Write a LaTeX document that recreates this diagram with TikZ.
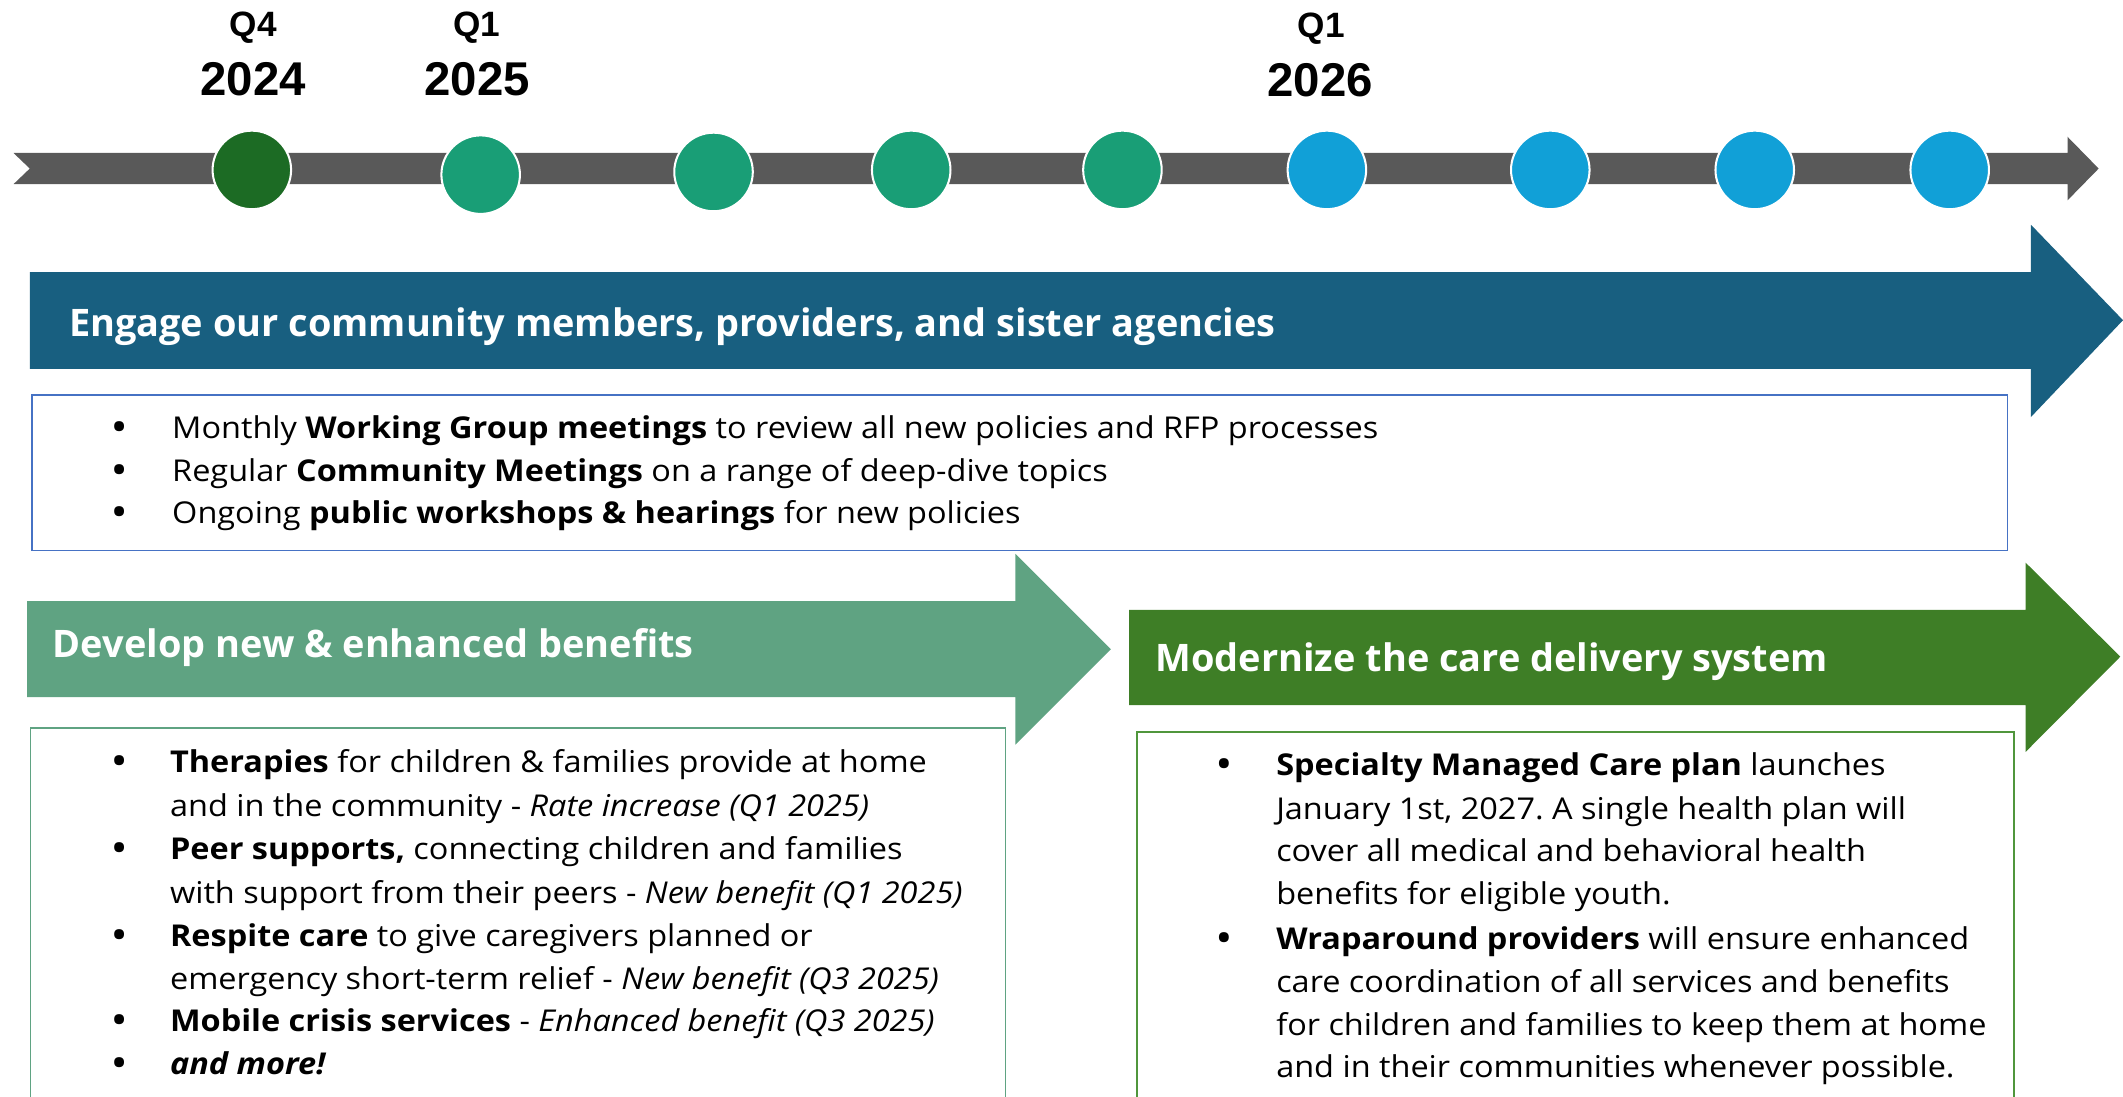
\documentclass[tikz,border=0pt]{standalone}
\usepackage{fontspec}
\setmainfont{Open Sans}
\newfontfamily\bodyf[FakeStretch=1.08]{Open Sans}
\newfontfamily\arialf{Liberation Sans}
\definecolor{tlgray}{RGB}{89,89,89}
\definecolor{dotA}{RGB}{28,107,36}
\definecolor{dotB}{RGB}{25,158,118}
\definecolor{dotC}{RGB}{17,160,215}
\definecolor{navyc}{RGB}{24,95,128}
\definecolor{lgreenc}{RGB}{95,163,130}
\definecolor{dgreenc}{RGB}{62,126,38}
\definecolor{boxAc}{RGB}{70,114,196}
\definecolor{boxBc}{RGB}{95,163,130}
\definecolor{boxCc}{RGB}{80,150,60}
\frenchspacing
\begin{document}
\begin{tikzpicture}[x=1pt,y=-1pt,
  qlbl/.style={anchor=base, inner sep=0, font=\arialf\bfseries\fontsize{26}{30}\selectfont},
  yrlbl/.style={anchor=base, inner sep=0, font=\arialf\bfseries\fontsize{35}{40}\selectfont},
  dot/.style={circle, draw=white, line width=1.5pt, minimum size=58pt, inner sep=0},
  ttl/.style={anchor=base west, inner sep=0, text=white, font=\bfseries\fontsize{28}{32}\selectfont},
  ln/.style={anchor=base west, inner sep=0, font=\bodyf\fontsize{22.2}{26}\selectfont},
  bul/.style={anchor=base, inner sep=0, font=\bodyf\bfseries\fontsize{24}{26}\selectfont},
  panel/.style={draw, line width=1.2pt, anchor=north west, inner sep=0, fill=white},
]
\useasboundingbox (0,0) rectangle (1568,810);
\clip (0,0) rectangle (1568,810);

% timeline
\fill[tlgray] (10,113) -- (1527,113) -- (1527,101) -- (1550,124.5) -- (1527,148) -- (1527,136) -- (10,136) -- (22,124.5) -- cycle;
\node[dot, fill=dotA] (d1) at (186,125.5) {};
\node[dot, fill=dotB] (d2) at (355,129) {};
\node[dot, fill=dotB] (d3) at (527,127) {};
\node[dot, fill=dotB] (d4) at (673,125.5) {};
\node[dot, fill=dotB] (d5) at (829,125.5) {};
\node[dot, fill=dotC] (d6) at (980,125.5) {};
\node[dot, fill=dotC] (d7) at (1145,125.5) {};
\node[dot, fill=dotC] (d8) at (1296,125.5) {};
\node[dot, fill=dotC] (d9) at (1440,125.5) {};

\node[qlbl] (q1) at (187,26.6) {Q4};
\node[yrlbl] (y1) at (187,70.2) {2024};
\node[qlbl] (q2) at (352,26.6) {Q1};
\node[yrlbl] (y2) at (352.5,70.2) {2025};
\node[qlbl] (q3) at (976,27.5) {Q1};
\node[yrlbl] (y3) at (975,71.4) {2026};

% arrows
\fill[navyc] (22,201) -- (1500,201) -- (1500,166) -- (1568,236.5) -- (1500,308) -- (1500,272.5) -- (22,272.5) -- cycle;
\fill[lgreenc] (20,444) -- (750,444) -- (750,409) -- (820.5,479.5) -- (750,550) -- (750,514.8) -- (20,514.8) -- cycle;
\fill[dgreenc] (834,450.5) -- (1496,450.5) -- (1496,415.5) -- (1566,485) -- (1496,555.4) -- (1496,520.7) -- (834,520.7) -- cycle;

\node[ttl] (t1) at (50.8,248.7) {Engage our community members, providers, and sister agencies};
\node[ttl] (t2) at (38.9,485.3) {Develop new \& enhanced benefits};
\node[ttl] (t3) at (853.3,496) {Modernize the care delivery system};

% panels
\node[panel, draw=boxAc, minimum width=1459pt, minimum height=115pt] (pA) at (23,291) {};
\node[panel, draw=boxBc, minimum width=720pt, minimum height=300pt] (pB) at (22,537) {};
\node[panel, draw=boxCc, minimum width=648pt, minimum height=300pt] (pC) at (839,540) {};

% panel A text
\node[bul] (ab1) at (88,323.6) {•};
\node[ln] (a1) at (127,323.6) {Monthly \textbf{Working Group meetings} to review all new policies and RFP processes};
\node[bul] (ab2) at (88,355.7) {•};
\node[ln] (a2) at (127,355.7) {Regular \textbf{Community Meetings} on a range of deep-dive topics};
\node[bul] (ab3) at (88,386.5) {•};
\node[ln] (a3) at (127,386.5) {Ongoing \textbf{public workshops \& hearings} for new policies};

% panel B text
\node[bul] (bb1) at (88,570.7) {•};
\node[ln] (b1) at (125.4,570.7) {\textbf{Therapies} for children \& families provide at home};
\node[ln] (b2) at (125.4,603.4) {and in the community - \textit{Rate increase (Q1 2025)}};
\node[bul] (bb3) at (88,635) {•};
\node[ln] (b3) at (125.4,635) {\textbf{Peer supports,} connecting children and families};
\node[ln] (b4) at (125.4,667) {with support from their peers - \textit{New benefit (Q1 2025)}};
\node[bul] (bb5) at (88,698.7) {•};
\node[ln] (b5) at (125.4,698.7) {\textbf{Respite care} to give caregivers planned or};
\node[ln] (b6) at (125.4,730.7) {emergency short-term relief - \textit{New benefit (Q3 2025)}};
\node[bul] (bb7) at (88,762) {•};
\node[ln] (b7) at (125.4,762) {\textbf{Mobile crisis services} - \textit{Enhanced benefit (Q3 2025)}};
\node[bul] (bb8) at (88,793.7) {•};
\node[ln] (b8) at (125.4,793.7) {\textbf{\textit{and more!}}};

% panel C text
\node[bul] (cb1) at (904,573) {•};
\node[ln] (c1) at (942.4,573) {\textbf{Specialty Managed Care plan} launches};
\node[ln] (c2) at (942.4,605.3) {January 1st, 2027. A single health plan will};
\node[ln] (c3) at (942.4,636.3) {cover all medical and behavioral health};
\node[ln] (c4) at (942.4,668.4) {benefits for eligible youth.};
\node[bul] (cb5) at (904,701.6) {•};
\node[ln] (c5) at (942.4,701.6) {\textbf{Wraparound providers} will ensure enhanced};
\node[ln] (c6) at (942.4,733.3) {care coordination of all services and benefits};
\node[ln] (c7) at (942.4,764.8) {for children and families to keep them at home};
\node[ln] (c8) at (942.4,796) {and in their communities whenever possible.};
\end{tikzpicture}
\end{document}
